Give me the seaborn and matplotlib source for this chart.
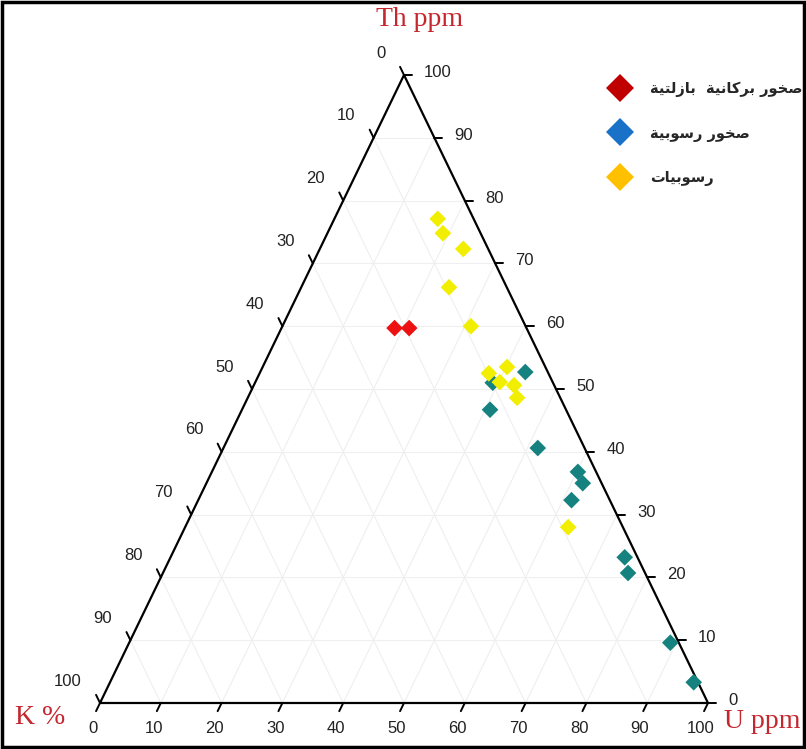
import matplotlib.pyplot as plt
import pandas as pd
import seaborn as sns
from matplotlib.lines import Line2D
from matplotlib.patches import Rectangle

# Ternary samples: Th ppm and U ppm (K % = 100 - Th - U)
basalt_th = [59.7, 59.7]
basalt_u = [18.6, 21.0]

sedrock_th = [51.0, 52.7, 46.7, 40.6, 36.8, 35.0, 32.3, 23.2, 20.7, 9.6, 3.3]
sedrock_u = [39.1, 43.6, 40.8, 51.7, 60.2, 61.9, 61.4, 74.7, 76.5, 89.0, 96.0]

sediment_th = [77.1, 74.8, 72.3, 66.2, 60.0, 52.5, 51.1, 53.5, 50.6, 48.6, 28.0]
sediment_u = [17.0, 19.0, 23.6, 24.3, 31.0, 37.7, 40.2, 40.2, 42.8, 44.3, 63.0]

ticks = [0, 10, 20, 30, 40, 50, 60, 70, 80, 90, 100]

labels_ar = ["صخور بركانية  بازلتية", "صخور رسوبية", "رسوبيات"]
point_colors = ["#ee1111", "#15827f", "#f2ee00"]
legend_colors = ["#c00000", "#1a72c8", "#ffc000"]
RED = "#c4272e"

# --- minimal Arabic shaping (matplotlib has no complex text layout) ---
DUAL = set("صخبكنيلتس")
FORMS = {
    "ص": "\ufeb9\ufeba\ufebb\ufebc", "خ": "\ufea5\ufea6\ufea7\ufea8",
    "ب": "\ufe8f\ufe90\ufe91\ufe92", "ك": "\ufed9\ufeda\ufedb\ufedc",
    "ن": "\ufee5\ufee6\ufee7\ufee8", "ي": "\ufef1\ufef2\ufef3\ufef4",
    "ل": "\ufedd\ufede\ufedf\ufee0", "ت": "\ufe95\ufe96\ufe97\ufe98",
    "س": "\ufeb1\ufeb2\ufeb3\ufeb4",
    "و": "\ufeed\ufeee", "ر": "\ufead\ufeae", "ا": "\ufe8d\ufe8e",
    "ة": "\ufe93\ufe94", "ز": "\ufeaf\ufeb0",
}


def shape_ar(s):
    out = []
    for i, c in enumerate(s):
        if c not in FORMS:
            out.append(c)
            continue
        prev_join = i > 0 and s[i - 1] in DUAL
        next_join = c in DUAL and i + 1 < len(s) and s[i + 1] in FORMS
        f = FORMS[c]
        if prev_join and next_join:
            out.append(f[3])
        elif prev_join:
            out.append(f[1])
        elif next_join:
            out.append(f[2])
        else:
            out.append(f[0])
    return "".join(reversed(out))


def tern(th, u):
    """ternary (Th, U) -> cartesian in a 0..100 box"""
    return u + th / 2.0, th


sns.set_theme(style="white")
plt.rcParams["font.family"] = ["Liberation Sans", "DejaVu Sans"]

fig = plt.figure(figsize=(8.06, 7.49), dpi=100)
ax = fig.add_axes([100 / 806, 46 / 749, 608 / 806, 628 / 749])
ax.set_xlim(0, 100)
ax.set_ylim(0, 100)
ax.axis("off")

# grid every 10 in all three directions
for v in ticks[1:-1]:
    for a, b in [((v, 0), (v, 100 - v)),          # const Th
                 ((0, v), (100 - v, v)),          # const U
                 ((100 - v, 0), (0, 100 - v))]:   # const K
        x0, y0 = tern(*a)
        x1, y1 = tern(*b)
        ax.plot([x0, x1], [y0, y1], color="#efefef", lw=0.8, zorder=0)

# triangle outline
corners = [(0, 0), (100, 0), (0, 100), (0, 0)]
cx, cy = zip(*[tern(t, u) for t, u in corners])
ax.plot(cx, cy, color="black", lw=1.6, clip_on=False, zorder=2)

d = 1.3
for v in ticks:
    # U ticks along the base
    x0, y0 = tern(0, v)
    x1, y1 = tern(-d, v)
    ax.plot([x0, x1], [y0, y1], color="black", lw=1.4, clip_on=False)
    ax.text(x0 - 1.2, -4.0, str(v), ha="center", va="center", fontsize=12, color="#222222")
    # Th ticks along the right edge
    x0, y0 = tern(v, 100 - v)
    x1, y1 = tern(v, 100 - v + d)
    ax.plot([x0, x1], [y0, y1], color="black", lw=1.4, clip_on=False)
    ax.text(x1 + 2.0, y0 + 0.4, str(v), ha="left", va="center", fontsize=12, color="#222222")
    # K ticks along the left edge
    x0, y0 = tern(100 - v, 0)
    x1, y1 = tern(100 - v + d, -d)
    ax.plot([x0, x1], [y0, y1], color="black", lw=1.4, clip_on=False)
    ax.text(x0 - 3.0, y0 + 3.5, str(v), ha="right", va="center", fontsize=12, color="#222222")

# samples
rows = []
for name, ths, us in [("basalt", basalt_th, basalt_u),
                      ("sedrock", sedrock_th, sedrock_u),
                      ("sediment", sediment_th, sediment_u)]:
    for th, u in zip(ths, us):
        x, y = tern(th, u)
        rows.append({"group": name, "Th": th, "U": u, "x": x, "y": y})
df = pd.DataFrame(rows)

sns.scatterplot(data=df, x="x", y="y", hue="group", hue_order=["sedrock", "sediment", "basalt"],
                palette={"basalt": point_colors[0], "sedrock": point_colors[1],
                         "sediment": point_colors[2]},
                marker="D", s=72, linewidth=0, legend=False, ax=ax, clip_on=False, zorder=3)
ax.set_xlim(0, 100)
ax.set_ylim(0, 100)

# axis titles
serif = dict(family="Liberation Serif", fontsize=20, color=RED)
fig.text(420 / 806, 1 - 19 / 749, "Th ppm", ha="center", va="center", **serif)
fig.text(40 / 806, 1 - 717 / 749, "K %", ha="center", va="center", **serif)
fig.text(762 / 806, 1 - 721 / 749, "U ppm", ha="center", va="center", **serif)

# legend (colours differ from the plotted points, as in the original)
handles = [Line2D([], [], marker="D", ls="none", ms=14, color=c, markeredgewidth=0)
           for c in legend_colors]
fig.legend(handles, [shape_ar(t) for t in labels_ar], loc="upper left",
           bbox_to_anchor=(598 / 806, 1 - 68 / 749), frameon=False,
           labelspacing=1.95, handletextpad=1.45, handlelength=1.2,
           prop=dict(family="DejaVu Sans", weight="bold", size=10.5))

fig.patches.append(Rectangle((0.003, 0.003), 0.994, 0.994, transform=fig.transFigure,
                             fill=False, edgecolor="black", lw=2.5))

fig.savefig("out.png", dpi=100)
